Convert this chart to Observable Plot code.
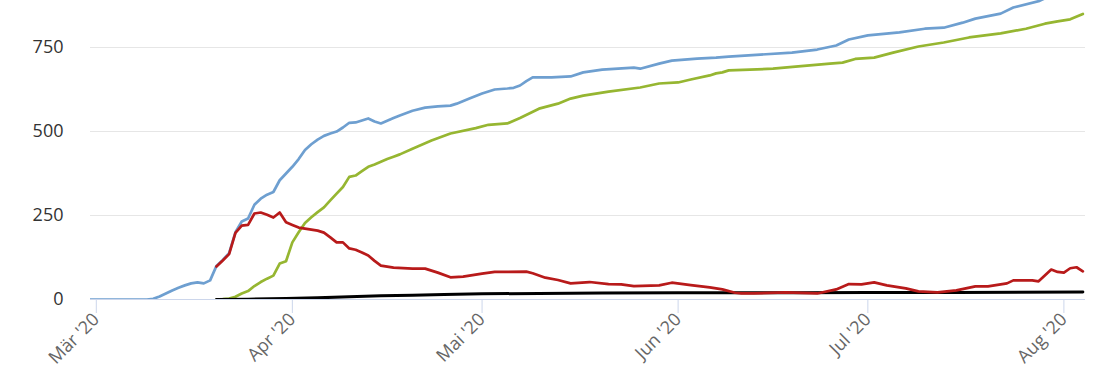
<!DOCTYPE html>
<html>
<head>
<meta charset="utf-8">
<script src="https://cdn.jsdelivr.net/npm/d3@7"></script>
<script src="https://cdn.jsdelivr.net/npm/@observablehq/plot@0.6"></script>
<style>
  html, body { margin: 0; padding: 0; background: #fff; }
  #chart svg { display: block; }
</style>
</head>
<body>
<div id="chart"></div>
<script>
// ---- Data ----
const totalDates = ["2020-02-29","2020-03-09","2020-03-10","2020-03-11","2020-03-12","2020-03-13","2020-03-14","2020-03-15","2020-03-16","2020-03-17","2020-03-18","2020-03-19","2020-03-20","2020-03-21","2020-03-22","2020-03-23","2020-03-24","2020-03-25","2020-03-26","2020-03-27","2020-03-28","2020-03-29","2020-03-30","2020-03-31","2020-04-01","2020-04-02","2020-04-03","2020-04-04","2020-04-05","2020-04-06","2020-04-07","2020-04-08","2020-04-09","2020-04-10","2020-04-11","2020-04-12","2020-04-13","2020-04-14","2020-04-15","2020-04-16","2020-04-17","2020-04-18","2020-04-20","2020-04-22","2020-04-24","2020-04-26","2020-04-27","2020-04-29","2020-05-01","2020-05-03","2020-05-05","2020-05-06","2020-05-07","2020-05-08","2020-05-09","2020-05-12","2020-05-15","2020-05-17","2020-05-20","2020-05-25","2020-05-26","2020-05-29","2020-05-31","2020-06-04","2020-06-07","2020-06-09","2020-06-14","2020-06-19","2020-06-23","2020-06-26","2020-06-28","2020-07-01","2020-07-06","2020-07-10","2020-07-13","2020-07-16","2020-07-18","2020-07-22","2020-07-24","2020-07-28","2020-07-30","2020-08-01","2020-08-03","2020-08-04"];
const totalValues = [0,0,2,9,18,27,35,42,48,51,48,57,100,118,138,200,232,241,282,300,312,320,355,375,395,418,445,462,476,487,494,500,512,526,527,533,539,530,524,532,540,548,562,571,575,577,583,598,613,625,628,630,637,650,661,661,664,676,684,690,687,702,711,717,720,723,729,735,744,756,774,786,795,806,809,824,836,851,869,888,905,925,942,953];

const recoveredDates = ["2020-03-20","2020-03-21","2020-03-22","2020-03-23","2020-03-24","2020-03-25","2020-03-26","2020-03-27","2020-03-28","2020-03-29","2020-03-30","2020-03-31","2020-04-01","2020-04-02","2020-04-03","2020-04-04","2020-04-05","2020-04-06","2020-04-07","2020-04-08","2020-04-09","2020-04-10","2020-04-11","2020-04-12","2020-04-13","2020-04-14","2020-04-15","2020-04-16","2020-04-17","2020-04-18","2020-04-20","2020-04-22","2020-04-23","2020-04-26","2020-04-30","2020-05-02","2020-05-05","2020-05-07","2020-05-10","2020-05-13","2020-05-15","2020-05-17","2020-05-21","2020-05-26","2020-05-29","2020-06-01","2020-06-03","2020-06-06","2020-06-07","2020-06-08","2020-06-09","2020-06-16","2020-06-20","2020-06-25","2020-06-27","2020-06-29","2020-07-02","2020-07-05","2020-07-09","2020-07-13","2020-07-17","2020-07-22","2020-07-26","2020-07-29","2020-07-31","2020-08-02","2020-08-04"];
const recoveredValues = [0,1,3,8,18,25,40,52,62,71,107,114,170,200,228,245,260,274,295,315,335,365,369,382,395,402,410,418,425,432,449,465,473,494,510,520,524,540,568,583,598,607,619,631,643,646,655,667,673,676,682,687,694,702,705,716,720,735,753,765,780,792,806,821,828,834,850];

const activeDates = ["2020-03-20","2020-03-21","2020-03-22","2020-03-23","2020-03-24","2020-03-25","2020-03-26","2020-03-27","2020-03-28","2020-03-29","2020-03-30","2020-03-31","2020-04-01","2020-04-02","2020-04-03","2020-04-05","2020-04-06","2020-04-07","2020-04-08","2020-04-09","2020-04-10","2020-04-11","2020-04-12","2020-04-13","2020-04-14","2020-04-15","2020-04-17","2020-04-20","2020-04-22","2020-04-24","2020-04-26","2020-04-28","2020-05-01","2020-05-03","2020-05-08","2020-05-09","2020-05-11","2020-05-13","2020-05-15","2020-05-18","2020-05-21","2020-05-23","2020-05-25","2020-05-29","2020-05-31","2020-06-03","2020-06-06","2020-06-08","2020-06-10","2020-06-11","2020-06-13","2020-06-18","2020-06-23","2020-06-26","2020-06-28","2020-06-30","2020-07-02","2020-07-04","2020-07-07","2020-07-09","2020-07-12","2020-07-15","2020-07-18","2020-07-20","2020-07-23","2020-07-24","2020-07-27","2020-07-28","2020-07-30","2020-07-31","2020-08-01","2020-08-02","2020-08-03","2020-08-04"];
const activeValues = [98,116,135,198,220,222,256,259,252,244,259,230,222,214,211,205,199,185,170,170,152,148,140,131,115,101,95,92,92,80,66,68,77,82,83,78,65,58,48,52,46,45,40,42,50,43,36,30,20,18,18,21,18,30,46,45,51,42,33,24,21,27,39,39,48,57,57,54,89,82,80,93,96,84];

const deathDates = ["2020-03-20","2020-03-25","2020-03-31","2020-04-05","2020-04-10","2020-04-15","2020-04-20","2020-04-25","2020-05-01","2020-05-10","2020-05-20","2020-06-01","2020-06-20","2020-07-01","2020-07-15","2020-08-04"];
const deathValues = [0,1,3,5,8,11,13,15,17,18,19,20,20,21,21,22];

const monthTicks = ["2020-03-01","2020-04-01","2020-05-01","2020-06-01","2020-07-01","2020-08-01"];
const monthLabels = ["Mär '20","Apr '20","Mai '20","Jun '20","Jul '20","Aug '20"];
const yTicks = [0, 250, 500, 750];

// ---- Build tables ----
const parse = s => new Date(s + "T00:00:00Z");
const rows = (dates, values) => dates.map((d, i) => ({date: parse(d), value: values[i]}));
const total = rows(totalDates, totalValues);
const recovered = rows(recoveredDates, recoveredValues);
const active = rows(activeDates, activeValues);
const deaths = rows(deathDates, deathValues);
const tickDates = monthTicks.map(parse);
const fmt = d => monthLabels[tickDates.findIndex(t => +t === +d)];

const lineOpts = {x: "date", y: "value", strokeWidth: 2.7, strokeLinejoin: "round", strokeLinecap: "round", clip: true};

const chart = Plot.plot({
  width: 1110,
  height: 370,
  marginLeft: 90,
  marginRight: 25,
  marginTop: 0,
  marginBottom: 71,
  style: {fontFamily: "'Open Sans', sans-serif", fontSize: "18px", background: "#fff", overflow: "visible"},
  x: {type: "utc", domain: [new Date(Date.UTC(2020, 1, 29, 2)), new Date(Date.UTC(2020, 7, 4, 10))]},
  y: {domain: [0, 890]},
  marks: [
    Plot.gridY(yTicks, {stroke: "#e6e6e6", strokeOpacity: 1, strokeWidth: 1}),
    Plot.axisY({ticks: yTicks, tickSize: 0, tickPadding: 27, label: null, fill: "#333"}),
    Plot.ruleY([0], {stroke: "#ccd6eb", strokeWidth: 1}),
    Plot.axisX({ticks: tickDates, tickFormat: fmt, tickRotate: -45, tickSize: 14, tickPadding: 3, label: null, stroke: "#ccd6eb", fill: "#666"}),
    Plot.line(total, {...lineOpts, stroke: "#6e9fd0"}),
    Plot.line(recovered, {...lineOpts, stroke: "#96b631"}),
    Plot.line(deaths, {...lineOpts, stroke: "#000", strokeWidth: 3}),
    Plot.line(active, {...lineOpts, stroke: "#b81a1a"})
  ]
});
document.getElementById("chart").appendChild(chart);
</script>
</body>
</html>
